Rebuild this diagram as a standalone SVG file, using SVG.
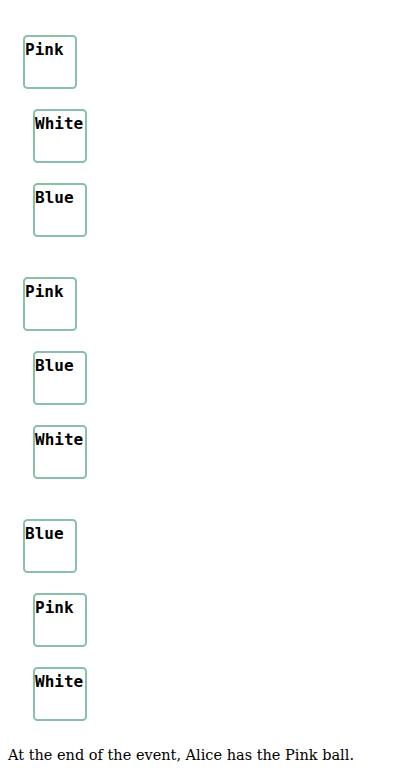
<svg xmlns="http://www.w3.org/2000/svg" width="400" height="781" viewBox="0 0 400 781">
<style>
.box{fill:#fff;stroke:#88c0a8;stroke-width:2}
.lbl{font-family:"DejaVu Sans Mono",monospace;font-weight:bold;font-size:16px;fill:#000}
.cap{font-family:"DejaVu Serif",serif;font-size:14.5px;fill:#000}
</style>
<rect width="400" height="781" fill="#fff"/>
<g id="n1"><rect class="box" x="24" y="36" width="52" height="52" rx="3.5"/><text class="lbl" x="25" y="55">Pink</text></g>
<g id="n2"><rect class="box" x="34" y="110" width="52" height="52" rx="3.5"/><text class="lbl" x="35" y="129">White</text></g>
<g id="n3"><rect class="box" x="34" y="184" width="52" height="52" rx="3.5"/><text class="lbl" x="35" y="203">Blue</text></g>
<g id="n4"><rect class="box" x="24" y="278" width="52" height="52" rx="3.5"/><text class="lbl" x="25" y="297">Pink</text></g>
<g id="n5"><rect class="box" x="34" y="352" width="52" height="52" rx="3.5"/><text class="lbl" x="35" y="371">Blue</text></g>
<g id="n6"><rect class="box" x="34" y="426" width="52" height="52" rx="3.5"/><text class="lbl" x="35" y="445">White</text></g>
<g id="n7"><rect class="box" x="24" y="520" width="52" height="52" rx="3.5"/><text class="lbl" x="25" y="539">Blue</text></g>
<g id="n8"><rect class="box" x="34" y="594" width="52" height="52" rx="3.5"/><text class="lbl" x="35" y="613">Pink</text></g>
<g id="n9"><rect class="box" x="34" y="668" width="52" height="52" rx="3.5"/><text class="lbl" x="35" y="687">White</text></g>
<g id="connectors"></g>
<text class="cap" x="8" y="760">At the end of the event, Alice has the Pink ball.</text>
</svg>
